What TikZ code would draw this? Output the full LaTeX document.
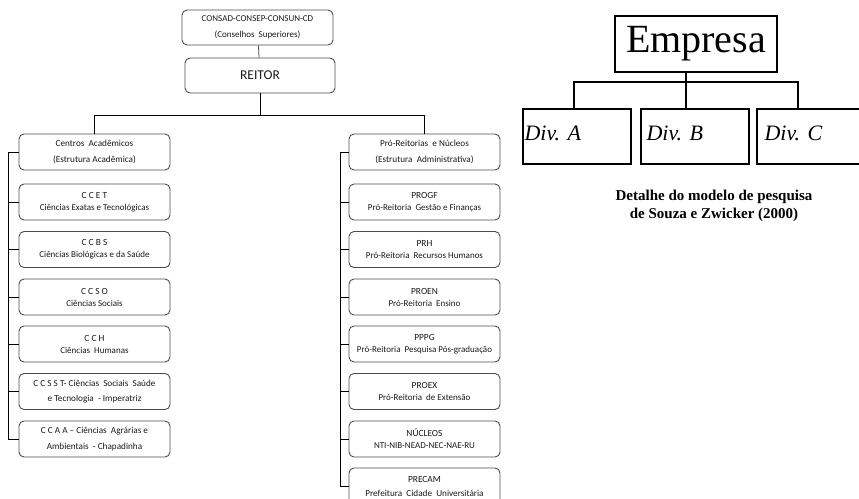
\documentclass[tikz,border=0pt]{standalone}
\usepackage{fontspec}
\setmainfont{Carlito}
\newfontfamily\timesfont{Liberation Serif}
\newfontfamily\timesitalic{Liberation Serif Italic}
\newcommand{\orgT}[1]{{\fontsize{9.4}{11}\selectfont #1}}
\newcommand{\orgS}[1]{{\fontsize{9}{11}\selectfont #1}}

\begin{document}
\begin{tikzpicture}[x=1pt,y=-1pt,
  orgbox/.style={draw=black!70, line width=0.9pt, rounded corners=5pt,
    minimum width=151pt, minimum height=36pt, inner sep=0pt, align=center,
    text=black!90, font=\fontsize{9.2}{15.5}\selectfont},
  link/.style={draw=black, line width=0.8pt},
  plainbox/.style={draw=black, line width=1.3pt, inner sep=0pt},
  divbox/.style={plainbox, minimum width=108pt, minimum height=55pt},
  divtext/.style={font=\timesitalic\fontsize{22}{24}\selectfont, inner sep=0pt, anchor=base west},
  bus/.style={draw=black, line width=1.6pt},
]
\useasboundingbox (0,0) rectangle (859,498);
\clip (0,0) rectangle (859,498);

% ---- university structure ----
\node[orgbox, minimum height=35pt] (consad) at (257.5,27.5)
  {\orgS{CONSAD-CONSEP-CONSUN-CD}\\\orgS{(Conselhos\ \ Superiores)}};
\node[orgbox, minimum width=150pt, minimum height=35pt, font=\fontsize{13.5}{15}\selectfont] (reitor) at (260,75.5) {REITOR};

\node[orgbox] (centros) at (94.5,152) {Centros\ \ Acadêmicos\\(Estrutura Acadêmica)};
\node[orgbox] (ccet)  at (94.5,202)   {\orgT{C\ C\ E\ T}\\[-3.5pt]\orgS{Ciências Exatas e Tecnológicas}};
\node[orgbox] (ccbs)  at (94.5,249.5) {\orgT{C\ C\ B\ S}\\[-3.5pt]\orgS{Ciências Biológicas\ e da Saúde}};
\node[orgbox] (ccso)  at (94.5,297)   {\orgT{C\ C\ S\ O}\\[-3.5pt]\orgS{Ciências Sociais}};
\node[orgbox] (cch)   at (94.5,344)   {\orgT{C\ C\ H}\\[-3.5pt]\orgS{Ciências\ \ Humanas}};
\node[orgbox] (ccsst) at (94.5,391.5) {C C S S T- Ciências\ \ Sociais\ \ Saúde\\e Tecnologia\ \ - Imperatriz};
\node[orgbox] (ccaa)  at (94.5,439)   {C C A A -- Ciências\ \ Agrárias e\\Ambientais\ \ - Chapadinha};

\node[orgbox] (pro)     at (424.5,152)   {Pró-Reitorias\ \ e Núcleos\\(Estrutura\ \ Administrativa)};
\node[orgbox] (progf)   at (424.5,202)   {\orgT{PROGF}\\[-3.5pt]\orgS{Pró-Reitoria\ \ Gestão e Finanças}};
\node[orgbox] (prh)     at (424.5,249.5) {\orgT{PRH}\\[-3.5pt]\orgS{Pró-Reitoria\ \ Recursos Humanos}};
\node[orgbox] (proen)   at (424.5,297)   {\orgT{PROEN}\\[-3.5pt]\orgS{Pró-Reitoria\ \ Ensino}};
\node[orgbox] (pppg)    at (424.5,344)   {\orgT{PPPG}\\[-3.5pt]\orgS{Pró-Reitoria\ \ Pesquisa Pós-graduação}};
\node[orgbox] (proex)   at (424.5,391.5) {\orgT{PROEX}\\[-3.5pt]\orgS{Pró-Reitoria\ \ de Extensão}};
\node[orgbox] (nucleos) at (424.5,439)   {\orgT{NÚCLEOS}\\[-3.5pt]\orgS{NTI-NIB-NEAD-NEC-NAE-RU}};
\node[orgbox] (precam)  at (424.5,486)   {\orgT{PRECAM}\\[-1.5pt]Prefeitura\ \ Cidade\ \ Universitária};

\draw[link, draw=black!70] (consad) -- (reitor);
\draw[link] (reitor.south) -- (reitor.south |- 0,115);
\draw[link] (centros.north) -- (centros.north |- 0,115) -- (pro.north |- 0,115) -- (pro.north);

\draw[link] (centros.west) -- ++(-10,0) coordinate (lbar);
\foreach \n in {ccet,ccbs,ccso,cch,ccsst,ccaa}
  \draw[link] (lbar) |- (\n.west);

\draw[link] (pro.west) -- ++(-8,0) coordinate (rbar);
\foreach \n in {progf,prh,proen,pppg,proex,nucleos,precam}
  \draw[link] (rbar) |- (\n.west);

% ---- company model ----
\node[plainbox, minimum width=162pt, minimum height=56pt,
  font=\timesfont\fontsize{40}{44}\selectfont] (empresa) at (696,44) {Empresa};
\node[divbox] (divA) at (577,136.5) {};
\node[divbox] (divB) at (695,136.5) {};
\node[divbox] (divC) at (811,136.5) {};
\node[divtext] at ([xshift=2pt,yshift=-3.5pt]divA.west) {Div. A};
\node[divtext] at ([xshift=6pt,yshift=-3.5pt]divB.west) {Div. B};
\node[divtext] at ([xshift=8pt,yshift=-3.5pt]divC.west) {Div. C};

\coordinate (busL) at (573,82);
\coordinate (busR) at (799,82);
\draw[bus] (busL) -- (busR);
\draw[bus] (empresa.south -| 686,0) -- (686,82);
\draw[bus] (574,82) -- (divA.north -| 574,0);
\draw[bus] (686,82) -- (divB.north -| 686,0);
\draw[bus] (798,82) -- (divC.north -| 798,0);

\node[font=\timesfont\bfseries\fontsize{15}{17.5}\selectfont, align=center] (caption) at (714,206)
  {Detalhe do modelo de pesquisa\\de Souza e Zwicker (2000)};
\end{tikzpicture}
\end{document}
